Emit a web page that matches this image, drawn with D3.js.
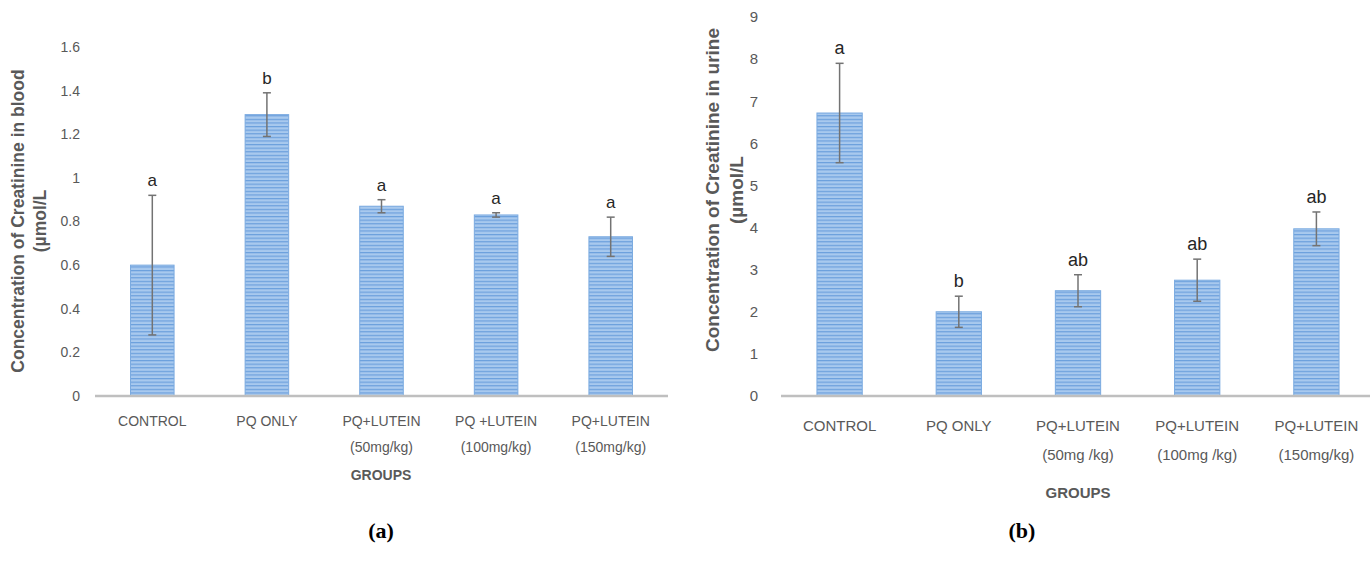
<!DOCTYPE html>
<html><head><meta charset="utf-8">
<script src="https://cdn.jsdelivr.net/npm/d3@7"></script>
<style>
body{margin:0;background:#fff;}
svg{display:block;font-family:"Liberation Sans",Arial,sans-serif;}
</style></head>
<body><svg id="c" width="1370" height="571"></svg>
<script>
// ---- data ----
const categoriesA = [["CONTROL"],["PQ ONLY"],["PQ+LUTEIN","(50mg/kg)"],["PQ +LUTEIN","(100mg/kg)"],["PQ+LUTEIN","(150mg/kg)"]];
const valuesA = [0.60, 1.29, 0.87, 0.83, 0.73];
const errorsA = [0.32, 0.10, 0.03, 0.01, 0.09];
const lettersA = ["a","b","a","a","a"];
const ticksA = [0,0.2,0.4,0.6,0.8,1,1.2,1.4,1.6];
const yTitleA = ["Concentration of Creatinine in blood","(µmol/L"];

const categoriesB = [["CONTROL"],["PQ ONLY"],["PQ+LUTEIN","(50mg /kg)"],["PQ+LUTEIN","(100mg /kg)"],["PQ+LUTEIN","(150mg/kg)"]];
const valuesB = [6.72, 2.00, 2.50, 2.75, 3.97];
const errorsB = [1.18, 0.37, 0.38, 0.50, 0.40];
const lettersB = ["a","b","ab","ab","ab"];
const ticksB = [0,1,2,3,4,5,6,7,8,9];
const yTitleB = ["Concentration of Creatinine in urine","(µmol/L"];

const svg = d3.select("#c");
const defs = svg.append("defs");
const pat = defs.append("pattern").attr("id","stripes").attr("patternUnits","userSpaceOnUse")
  .attr("width",8).attr("height",3.6);
pat.append("rect").attr("width",8).attr("height",3.6).attr("fill","#a8c9ee");
pat.append("rect").attr("y",0).attr("width",8).attr("height",1.2).attr("fill","#6b9fdc");

function drawChart(o){
  const g = svg.append("g");
  const x = d3.scaleBand().domain(o.cats.map((d,i)=>i)).range([o.x0,o.x1]).paddingInner(0.62).paddingOuter(0.31);
  const y = d3.scaleLinear().domain([0,o.ymax]).range([o.y0,o.y1]);
  // y tick labels (no axis line)
  const ya = d3.axisLeft(y).tickValues(o.ticks).tickSize(0).tickPadding(0).tickFormat(d=>String(d));
  const yg = g.append("g").attr("transform",`translate(${o.tickX},0)`).call(ya);
  yg.select(".domain").remove();
  yg.selectAll("text").attr("fill","#595959").style("font-size",o.tickFs+"px").style("font-family","Liberation Sans, Arial, sans-serif");
  // bars
  g.selectAll("rect.bar").data(o.vals).join("rect").attr("class","bar")
    .attr("x",(d,i)=>x(i)).attr("width",x.bandwidth())
    .attr("y",d=>y(d)).attr("height",d=>y(0)-y(d))
    .attr("fill","url(#stripes)").attr("stroke","#7aaae0").attr("stroke-width",1);
  // x axis line
  const xa = d3.axisBottom(x).tickSize(0).tickFormat("");
  const xg = g.append("g").attr("transform",`translate(0,${o.y0})`).call(xa);
  xg.select(".domain").attr("stroke","#bfbfbf").attr("stroke-width",2.5).attr("d",`M${o.axL},0H${o.axR}`);
  // error bars
  const eg = g.append("g").attr("stroke","#737373").attr("stroke-width",1.5);
  o.vals.forEach((v,i)=>{
    const cx = x(i)+x.bandwidth()/2, e=o.errs[i];
    eg.append("line").attr("x1",cx).attr("x2",cx).attr("y1",y(v+e)).attr("y2",y(v-e));
    eg.append("line").attr("x1",cx-4).attr("x2",cx+4).attr("y1",y(v+e)).attr("y2",y(v+e));
    eg.append("line").attr("x1",cx-4).attr("x2",cx+4).attr("y1",y(v-e)).attr("y2",y(v-e));
    g.append("text").attr("x",cx).attr("y",y(v+e)-o.letGap).attr("text-anchor","middle")
      .attr("fill","#262626").style("font-size",o.letFs+"px").text(o.lets[i]);
  });
  // category labels
  o.cats.forEach((c,i)=>{
    const cx = x(i)+x.bandwidth()/2;
    c.forEach((s,j)=>{
      g.append("text").attr("x",cx).attr("y",o.catY+j*o.catDy).attr("text-anchor","middle")
        .attr("fill","#595959").style("font-size",o.catFs+"px").text(s);
    });
  });
  // x title
  g.append("text").attr("x",o.grpX).attr("y",o.grpY).attr("text-anchor","middle")
    .attr("fill","#595959").style("font-size",o.catFs+"px").style("font-weight","bold").text("GROUPS");
  // y title
  o.ytitle.forEach((s,j)=>{
    g.append("text").attr("transform",`translate(${o.ytX[j]},${o.ytY}) rotate(-90)`)
      .attr("text-anchor","middle").attr("dominant-baseline","central")
      .attr("fill","#595959").style("font-size",o.ytFs+"px").style("font-weight","bold")
      .text(s);
  });
  // caption
  svg.append("text").attr("x",o.capX).attr("y",538).attr("text-anchor","middle")
    .style("font-family","Liberation Serif, Times New Roman, serif").style("font-weight","bold")
    .style("font-size","22px").attr("fill","#000").text(o.cap);
}

drawChart({cats:categoriesA, vals:valuesA, errs:errorsA, lets:lettersA, ticks:ticksA, ymax:1.6,
  x0:95, x1:668, y0:396, y1:47, axL:95, axR:668, tickX:80, tickFs:14,
  letGap:9, letFs:17, catY:426, catDy:26, catFs:14, grpX:381, grpY:480,
  ytitle:yTitleA, ytX:[18,40], ytY:221, ytFs:17.5, capX:381, cap:"(a)"});

drawChart({cats:categoriesB, vals:valuesB, errs:errorsB, lets:lettersB, ticks:ticksB, ymax:9,
  x0:780, x1:1376, y0:396, y1:17, axL:781, axR:1370, tickX:758, tickFs:15,
  letGap:9, letFs:18, catY:431, catDy:29, catFs:15, grpX:1078, grpY:498,
  ytitle:yTitleB, ytX:[712,736], ytY:190, ytFs:19, capX:1022, cap:"(b)"});
</script></body></html>
